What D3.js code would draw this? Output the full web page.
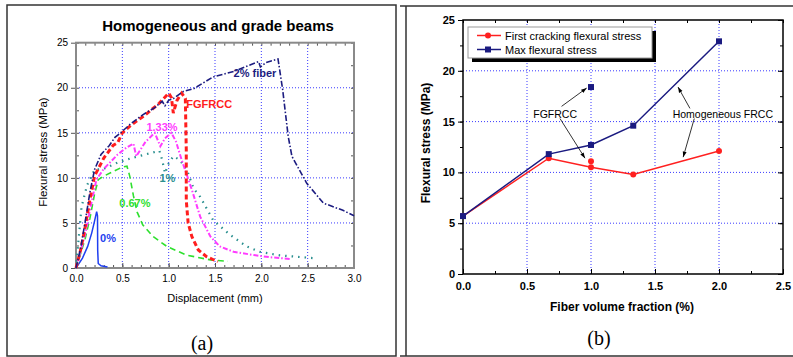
<!DOCTYPE html>
<html>
<head>
<meta charset="utf-8">
<script src="https://cdn.jsdelivr.net/npm/d3@7"></script>
<style>
  body { margin: 0; background: #fff; }
  svg { display: block; font-family: Arial, "Liberation Sans", sans-serif; }
</style>
</head>
<body>
<svg id="chart" width="793" height="357"></svg>
<script>
// ---- panel (a): load / displacement curves, [displacement mm, stress MPa]
var curve0 = [[0,0],[0.07,1.1],[0.126,2.4],[0.17,3.9],[0.2,5.2],[0.223,6.25],[0.232,5.8],[0.234,2.0],[0.24,0.5],[0.27,0.25],[0.34,0.1]];
var curve067 = [[0,0],[0.05,1.6],[0.1,3.3],[0.15,5.5],[0.2,8.2],[0.24,9.8],[0.3,10.2],[0.4,10.7],[0.5,11.2],[0.55,11.3],[0.58,10.2],[0.62,8.0],[0.66,6.2],[0.72,4.8],[0.83,3.5],[0.98,2.4],[1.19,1.44],[1.45,0.9],[1.64,0.75]];
var curve1 = [[0,0],[0.06,6.8],[0.12,9.2],[0.2,10.9],[0.3,11.0],[0.45,11.7],[0.6,12.2],[0.75,12.6],[0.9,13.0],[0.93,12.0],[0.96,10.5],[1.0,11.6],[1.05,12.4],[1.12,12.0],[1.2,10.8],[1.27,8.8],[1.34,7.9],[1.48,5.3],[1.66,3.7],[1.84,2.4],[1.98,1.8],[2.2,1.4],[2.56,1.1]];
var curve133 = [[0,0],[0.1,3.8],[0.17,7.4],[0.22,9.8],[0.3,11.0],[0.45,12.6],[0.55,13.4],[0.62,13.8],[0.65,12.4],[0.75,14.0],[0.85,15.0],[0.91,13.5],[0.96,14.4],[1.03,15.0],[1.08,14.0],[1.14,12.0],[1.25,8.7],[1.34,5.7],[1.45,3.5],[1.55,2.4],[1.7,1.8],[1.91,1.45],[2.09,1.2],[2.31,1.0]];
var curveFG = [[0,0],[0.05,2],[0.1,4.6],[0.15,7.6],[0.2,10.2],[0.25,11.2],[0.3,12.2],[0.4,13.6],[0.45,13.9],[0.5,15.0],[0.6,15.9],[0.75,17.0],[0.9,18.3],[1.0,19.4],[1.03,18.9],[1.05,17.2],[1.09,18.6],[1.14,19.4],[1.18,18.8],[1.19,13.1],[1.19,7.5],[1.21,5.0],[1.25,3.5],[1.32,2.0],[1.41,1.25],[1.53,0.7]];
var curve2 = [[0,0],[0.05,2.2],[0.1,5.2],[0.15,8.4],[0.2,10.9],[0.27,12.6],[0.36,13.6],[0.42,14.5],[0.47,14.9],[0.59,16.0],[0.72,17.0],[0.85,17.8],[0.93,18.5],[0.96,18.0],[1.0,18.6],[1.05,18.8],[1.16,19.6],[1.27,19.9],[1.48,21.2],[1.7,21.8],[1.97,22.9],[1.99,22.3],[2.05,22.8],[2.18,23.2],[2.23,19.8],[2.29,14.6],[2.33,12.4],[2.49,9.4],[2.67,7.2],[2.88,6.4],[3.0,5.8]];

var curveNames = ["0%", "0.67%", "1%", "1.33%", "FGFRCC", "2% fiber"];
// label anchor points (data units: displacement, stress)
var labelX = [0.26, 0.467, 0.90, 0.76, 1.19, 1.70];
var labelY = [2.9, 6.77, 9.55, 15.2, 17.8, 21.2];

var ticksXa = [0, 0.5, 1.0, 1.5, 2.0, 2.5, 3.0];
var ticksYa = [0, 5, 10, 15, 20, 25];

// ---- panel (b): flexural stress vs fiber volume fraction
var fiberFrac = [0, 0.67, 1.0, 1.33, 2.0];
var firstCrack = [5.7, 11.4, 10.5, 9.8, 12.1];
var maxStress = [5.7, 11.8, 12.7, 14.6, 22.9];
var fgFrac = 1.0, fgFirstCrack = 11.1, fgMax = 18.4;

var ticksXb = [0, 0.5, 1.0, 1.5, 2.0, 2.5];
var ticksYb = [0, 5, 10, 15, 20, 25];
var legendNames = ["First cracking flexural stress", "Max flexural stress"];

var svg = d3.select("#chart");

// frames around the two figure cells
svg.append("rect").attr("x", 7).attr("y", 5).attr("width", 389).attr("height", 351)
  .attr("fill", "none").attr("stroke", "#333").attr("stroke-width", 1.5);
svg.append("path").attr("d", "M400,6H793M406,6V356M400,356H793")
  .attr("fill", "none").attr("stroke", "#333").attr("stroke-width", 1.5);

function minorTicks(lo, hi, step) {
  var out = [];
  for (var v = lo; v <= hi + 1e-9; v += step) out.push(+v.toFixed(3));
  return out;
}

function grid(g, x, y, xs, ys) {
  g.selectAll(".gx").data(xs).join("line")
    .attr("x1", d => x(d)).attr("x2", d => x(d))
    .attr("y1", y.range()[0]).attr("y2", y.range()[1])
    .attr("stroke", "#3a3aff").attr("stroke-width", 1).attr("stroke-dasharray", "1,2");
  g.selectAll(".gy").data(ys).join("line")
    .attr("y1", d => y(d)).attr("y2", d => y(d))
    .attr("x1", x.range()[0]).attr("x2", x.range()[1])
    .attr("stroke", "#3a3aff").attr("stroke-width", 1).attr("stroke-dasharray", "1,2");
}

// ================= panel (a)
var xA = d3.scaleLinear().domain([0, 3]).range([76, 354]);
var yA = d3.scaleLinear().domain([0, 25]).range([268, 42.7]);
var gA = svg.append("g");

grid(gA.append("g"), xA, yA, [0.5, 1.0, 1.5, 2.0, 2.5], [5, 10, 15, 20]);

function styleAxis(g, color, fontSize, weight) {
  g.select(".domain").remove();
  g.selectAll(".tick line").attr("stroke", color);
  g.selectAll(".tick text").attr("fill", "#000").style("font-size", fontSize + "px")
    .style("font-weight", weight).style("font-family", "Arial, 'Liberation Sans', sans-serif");
}

// minor ticks (a)
gA.append("g").attr("transform", "translate(0,268)")
  .call(d3.axisBottom(xA).tickValues(minorTicks(0, 3, 0.1)).tickSize(-3).tickFormat(""))
  .call(g => styleAxis(g, "#555", 10, "normal"));
gA.append("g").attr("transform", "translate(0,42.7)")
  .call(d3.axisTop(xA).tickValues(minorTicks(0, 3, 0.1)).tickSize(-3).tickFormat(""))
  .call(g => styleAxis(g, "#555", 10, "normal"));
gA.append("g").attr("transform", "translate(76,0)")
  .call(d3.axisLeft(yA).tickValues(minorTicks(0, 25, 2.5)).tickSize(-3).tickFormat(""))
  .call(g => styleAxis(g, "#555", 10, "normal"));
gA.append("g").attr("transform", "translate(354,0)")
  .call(d3.axisRight(yA).tickValues(minorTicks(0, 25, 2.5)).tickSize(-3).tickFormat(""))
  .call(g => styleAxis(g, "#555", 10, "normal"));

// major ticks with labels (a)
gA.append("g").attr("transform", "translate(0,268)")
  .call(d3.axisBottom(xA).tickValues(ticksXa).tickSize(-5).tickPadding(7).tickFormat(d3.format(".1f")))
  .call(g => styleAxis(g, "#555", 10, "normal"));
gA.append("g").attr("transform", "translate(76,0)")
  .call(d3.axisLeft(yA).tickValues(ticksYa).tickSize(5).tickPadding(3).tickFormat(d3.format("d")))
  .call(g => styleAxis(g, "#555", 10, "normal"));

gA.append("rect").attr("x", 76).attr("y", 42.7).attr("width", 278).attr("height", 225.3)
  .attr("fill", "none").attr("stroke", "#8a8a8a").attr("stroke-width", 2);

var lineA = d3.line().x(d => xA(d[0])).y(d => yA(d[1]));
var curvesA = [curve0, curve067, curve1, curve133, curveFG, curve2];
var colorsA = ["#1f3ff0", "#2ee02e", "#2a8f8f", "#ff3cff", "#ff1e1e", "#1c1c80"];
var widthsA = [1.5, 1.6, 2.2, 2, 3, 1.6];
var dashA = [null, "6,4", "1.5,5", "5,2,1.5,2", "5,3", "6,2,1.5,2"];

gA.selectAll(".curve").data(curvesA).join("path")
  .attr("class", "curve")
  .attr("d", lineA)
  .attr("fill", "none")
  .attr("stroke", (d, i) => colorsA[i])
  .attr("stroke-width", (d, i) => widthsA[i])
  .attr("stroke-dasharray", (d, i) => dashA[i]);

gA.selectAll(".clabel").data(curveNames).join("text")
  .attr("x", (d, i) => xA(labelX[i]))
  .attr("y", (d, i) => yA(labelY[i]))
  .attr("fill", (d, i) => colorsA[i])
  .style("font-size", "11px")
  .style("font-weight", "bold")
  .text(d => d);

svg.append("text").attr("x", 218).attr("y", 31).attr("text-anchor", "middle")
  .style("font-size", "15px").style("font-weight", "bold").text("Homogeneous and grade beams");
svg.append("text").attr("x", 215).attr("y", 302).attr("text-anchor", "middle")
  .style("font-size", "11px").text("Displacement (mm)");
svg.append("text").attr("transform", "translate(47,152) rotate(-90)").attr("text-anchor", "middle")
  .style("font-size", "11.5px").text("Flexural stress (MPa)");
svg.append("text").attr("x", 202).attr("y", 350).attr("text-anchor", "middle")
  .style("font-family", "'Liberation Serif', 'Times New Roman', serif").style("font-size", "20px").text("(a)");

// ================= panel (b)
var xB = d3.scaleLinear().domain([0, 2.5]).range([463, 783]);
var yB = d3.scaleLinear().domain([0, 25]).range([274, 20]);
var gB = svg.append("g");

grid(gB.append("g"), xB, yB, [0.5, 1.0, 1.5, 2.0], [5, 10, 15, 20]);

gB.append("g").attr("transform", "translate(0,274)")
  .call(d3.axisBottom(xB).tickValues(minorTicks(0, 2.5, 0.25)).tickSize(-3).tickFormat(""))
  .call(g => styleAxis(g, "#000", 11, "bold"));
gB.append("g").attr("transform", "translate(0,20)")
  .call(d3.axisTop(xB).tickValues(minorTicks(0, 2.5, 0.25)).tickSize(-3).tickFormat(""))
  .call(g => styleAxis(g, "#000", 11, "bold"));
gB.append("g").attr("transform", "translate(463,0)")
  .call(d3.axisLeft(yB).tickValues(minorTicks(0, 25, 2.5)).tickSize(3).tickFormat(""))
  .call(g => styleAxis(g, "#000", 11, "bold"));
gB.append("g").attr("transform", "translate(783,0)")
  .call(d3.axisRight(yB).tickValues(minorTicks(0, 25, 2.5)).tickSize(-3).tickFormat(""))
  .call(g => styleAxis(g, "#000", 11, "bold"));

gB.append("g").attr("transform", "translate(0,274)")
  .call(d3.axisBottom(xB).tickValues(ticksXb).tickSize(-5).tickPadding(8).tickFormat(d3.format(".1f")))
  .call(g => styleAxis(g, "#000", 11, "bold"));
gB.append("g").attr("transform", "translate(463,0)")
  .call(d3.axisLeft(yB).tickValues(ticksYb).tickSize(5).tickPadding(3).tickFormat(d3.format("d")))
  .call(g => styleAxis(g, "#000", 11, "bold"));
gB.append("g").attr("transform", "translate(783,0)")
  .call(d3.axisRight(yB).tickValues(ticksYb).tickSize(-5).tickFormat(""))
  .call(g => styleAxis(g, "#000", 11, "bold"));

gB.append("path")
  .attr("d", "M" + xB(0) + "," + yB(0) + "V" + yB(25) + "H" + xB(2.5) + "V" + yB(0) + "Z")
  .attr("fill", "none").attr("stroke", "#000").attr("stroke-width", 1.5);

var lineB = d3.line().x(d => xB(d[0])).y(d => yB(d[1]));
var redPts = fiberFrac.map((f, i) => [f, firstCrack[i]]);
var bluePts = fiberFrac.map((f, i) => [f, maxStress[i]]);
var red = "#ff2020", navy = "#1a1a80";

gB.append("path").attr("d", lineB(redPts)).attr("fill", "none").attr("stroke", red).attr("stroke-width", 1.5);
gB.append("path").attr("d", lineB(bluePts)).attr("fill", "none").attr("stroke", navy).attr("stroke-width", 1.5);

gB.selectAll(".rc").data(redPts.concat([[fgFrac, fgFirstCrack]])).join("circle")
  .attr("cx", d => xB(d[0])).attr("cy", d => yB(d[1])).attr("r", 3).attr("fill", red);
gB.selectAll(".bs").data(bluePts.concat([[fgFrac, fgMax]])).join("rect")
  .attr("x", d => xB(d[0]) - 3).attr("y", d => yB(d[1]) - 3)
  .attr("width", 6).attr("height", 6).attr("fill", navy);

// annotations: [x1, y1, x2, y2] in data units
var arrowsB = [[0.77, 16.5, 0.966, 18.3], [0.758, 15.3, 0.953, 11.4], [1.773, 16.3, 1.68, 18.4], [1.807, 15.3, 1.72, 11.5]];
svg.append("defs").append("marker").attr("id", "arr")
  .attr("viewBox", "0 0 10 10").attr("refX", 10).attr("refY", 5)
  .attr("markerWidth", 7).attr("markerHeight", 7).attr("orient", "auto")
  .append("path").attr("d", "M0,1.5L10,5L0,8.5Z").attr("fill", "#000");
gB.selectAll(".arrow").data(arrowsB).join("line")
  .attr("x1", d => xB(d[0])).attr("y1", d => yB(d[1]))
  .attr("x2", d => xB(d[2])).attr("y2", d => yB(d[3]))
  .attr("stroke", "#000").attr("stroke-width", 0.8).attr("marker-end", "url(#arr)");

var notesB = ["FGFRCC", "Homogeneous FRCC"];
var notesX = [0.72, 2.03], notesY = [15.4, 15.4];
gB.selectAll(".note").data(notesB).join("text")
  .attr("x", (d, i) => xB(notesX[i])).attr("y", (d, i) => yB(notesY[i]))
  .attr("text-anchor", "middle").style("font-size", "10.5px").text(d => d);

// legend
var leg = gB.append("g").attr("transform", "translate(468,27)");
leg.append("rect").attr("x", 4).attr("y", 4).attr("width", 184).attr("height", 31).attr("fill", "#000");
leg.append("rect").attr("width", 184).attr("height", 31).attr("fill", "#fff").attr("stroke", "#999");
var legColors = [red, navy];
var rows = leg.selectAll(".row").data(legendNames).join("g")
  .attr("transform", (d, i) => "translate(0," + (8.5 + i * 14) + ")");
rows.append("line").attr("x1", 9).attr("x2", 33).attr("stroke", (d, i) => legColors[i]).attr("stroke-width", 1.5);
rows.filter((d, i) => i === 0).append("circle").attr("cx", 20).attr("r", 3).attr("fill", red);
rows.filter((d, i) => i === 1).append("rect").attr("x", 17).attr("y", -3).attr("width", 6).attr("height", 6).attr("fill", navy);
rows.append("text").attr("x", 37).attr("y", 4).style("font-size", "11px").text(d => d);

svg.append("text").attr("x", 622).attr("y", 311).attr("text-anchor", "middle")
  .style("font-size", "12px").style("font-weight", "bold").text("Fiber volume fraction (%)");
svg.append("text").attr("transform", "translate(430,143) rotate(-90)").attr("text-anchor", "middle")
  .style("font-size", "12px").style("font-weight", "bold").text("Flexural stress (MPa)");
svg.append("text").attr("x", 599).attr("y", 345).attr("text-anchor", "middle")
  .style("font-family", "'Liberation Serif', 'Times New Roman', serif").style("font-size", "20px").text("(b)");
</script>
</body>
</html>
